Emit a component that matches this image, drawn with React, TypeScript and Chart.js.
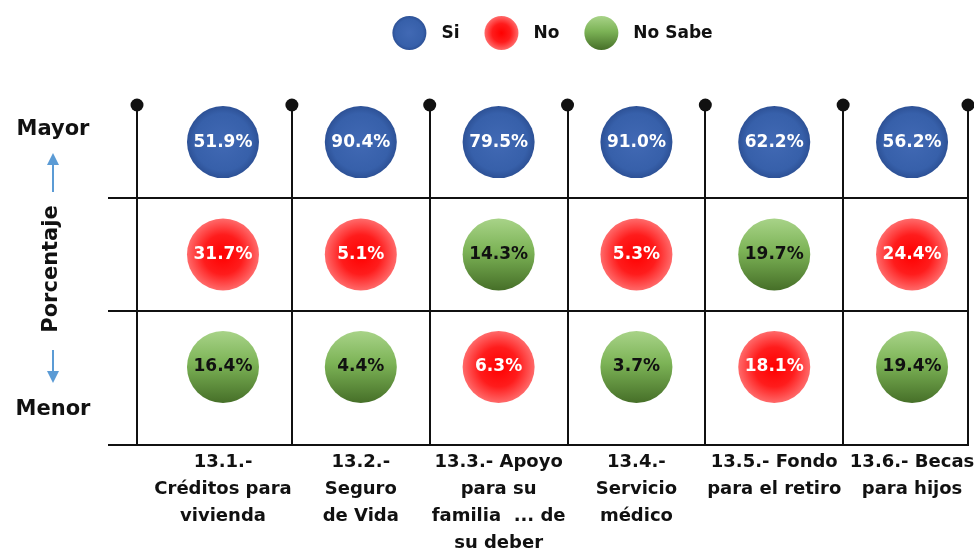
import React, { useEffect, useRef } from "react";
import { Chart, registerables } from "chart.js";

Chart.register(...registerables);

// ---------- data ----------
const categories: string[][] = [
  ["13.1.-", "Créditos para", "vivienda"],
  ["13.2.-", "Seguro", "de Vida"],
  ["13.3.- Apoyo", "para su", "familia  ... de", "su deber"],
  ["13.4.-", "Servicio", "médico"],
  ["13.5.- Fondo", "para el retiro"],
  ["13.6.- Becas", "para hijos"],
];
const seriesNames = ["Si", "No", "No Sabe"];
const siValues = [51.9, 90.4, 79.5, 91.0, 62.2, 56.2];
const noValues = [31.7, 5.1, 6.3, 5.3, 18.1, 24.4];
const noSabeValues = [16.4, 4.4, 14.3, 3.7, 19.7, 19.4];
const axisTopLabel = "Mayor";
const axisBottomLabel = "Menor";
const axisTitle = "Porcentaje";

const seriesValues = [siValues, noValues, noSabeValues];
const valueTextColors = ["#ffffff", "#ffffff", "#111111"];
const FONT = "'DejaVu Sans', 'Liberation Sans', sans-serif";
const BUBBLE_R = 36;
const LINE = "#111111";

// row of a series inside a category: highest value on top (row = n-1), lowest at bottom (row = 0)
function rowOf(seriesIdx: number, catIdx: number): number {
  const vals = seriesValues.map((s) => s[catIdx]);
  const v = vals[seriesIdx];
  const higher = vals.filter((o) => o > v).length;
  return seriesValues.length - 1 - higher;
}

function makeFill(g: CanvasRenderingContext2D, s: number, x: number, y: number, r: number) {
  if (s === 0) {
    const gr = g.createRadialGradient(x, y, 0, x, y, r);
    gr.addColorStop(0, "#4169B4");
    gr.addColorStop(0.8, "#3760AA");
    gr.addColorStop(1, "#2D5196");
    return gr;
  }
  if (s === 1) {
    const gr = g.createRadialGradient(x, y, 0, x, y, r);
    gr.addColorStop(0, "#FF0000");
    gr.addColorStop(0.55, "#FF1C1C");
    gr.addColorStop(1, "#FF6A6A");
    return gr;
  }
  const gr = g.createLinearGradient(x, y - r, x, y + r);
  gr.addColorStop(0, "#A8D388");
  gr.addColorStop(0.45, "#7CB356");
  gr.addColorStop(1, "#466F28");
  return gr;
}

const fallbackColors = ["#3760AA", "#FF2020", "#70A84A"];

const nCat = categories.length;
const xMin = -0.624;
const xMax = nCat - 1 + 0.406;
const xTickValues: number[] = [xMin];
for (let i = 0; i < nCat; i++) {
  xTickValues.push(i);
  if (i < nCat - 1) xTickValues.push(i + 0.5);
}
xTickValues.push(xMax);

const nRows = seriesValues.length;
const yMin = -0.693;
const yMax = nRows - 1 + 0.33;
const yTickValues: number[] = [yMin];
for (let k = 0; k < nRows - 1; k++) yTickValues.push(k + 0.5);

// ---------- plugins ----------
const decorPlugin = {
  id: "decor",
  afterDatasetsDraw(chart: any) {
    const g: CanvasRenderingContext2D = chart.ctx;
    chart.data.datasets.forEach((ds: any, di: number) => {
      const meta = chart.getDatasetMeta(di);
      meta.data.forEach((el: any, i: number) => {
        const v = seriesValues[di][i];
        g.save();
        g.font = `bold 17px ${FONT}`;
        g.fillStyle = valueTextColors[di];
        g.textAlign = "center";
        g.textBaseline = "middle";
        g.fillText(`${v.toFixed(1)}%`, el.x, el.y);
        g.restore();
      });
    });
  },
  afterDraw(chart: any) {
    const g: CanvasRenderingContext2D = chart.ctx;
    const area = chart.chartArea;
    const xs = chart.scales.x;
    // dots on top of vertical lines
    g.save();
    g.fillStyle = LINE;
    xTickValues.forEach((v) => {
      if (Number.isInteger(v)) return;
      const px = xs.getPixelForValue(v);
      g.beginPath();
      g.arc(px, area.top, 6.5, 0, Math.PI * 2);
      g.fill();
    });
    g.restore();

    // legend
    g.save();
    g.font = `bold 17px ${FONT}`;
    const d = 34;
    const gap = 15;
    const itemGap = 25;
    const widths = seriesNames.map((n) => g.measureText(n).width);
    const total = widths.reduce((a, w) => a + d + gap + w, 0) + itemGap * (seriesNames.length - 1);
    let lx = (area.left + area.right) / 2 - total / 2;
    const ly = 33;
    seriesNames.forEach((n, i) => {
      const cx = lx + d / 2;
      g.beginPath();
      g.arc(cx, ly, d / 2, 0, Math.PI * 2);
      g.fillStyle = makeFill(g, i, cx, ly, d / 2) as any;
      g.fill();
      g.fillStyle = "#111";
      g.textAlign = "left";
      g.textBaseline = "middle";
      g.fillText(n, lx + d + gap, ly + 1);
      lx += d + gap + widths[i] + itemGap;
    });
    g.restore();

    // left side labels
    const cx = 53;
    g.save();
    g.fillStyle = "#111";
    g.font = `bold 21px ${FONT}`;
    g.textAlign = "center";
    g.textBaseline = "middle";
    g.fillText(axisTopLabel, cx, area.top + 25);
    g.fillText(axisBottomLabel, cx, area.bottom - 35);
    g.save();
    g.translate(cx - 1, (area.top + area.bottom) / 2 - 6);
    g.rotate(-Math.PI / 2);
    g.fillText(axisTitle, 0, 0);
    g.restore();
    // arrows
    g.strokeStyle = "#5B9BD5";
    g.fillStyle = "#5B9BD5";
    g.lineWidth = 2;
    const upTop = area.top + 48;
    const upBottom = area.top + 87;
    g.beginPath();
    g.moveTo(cx, upBottom);
    g.lineTo(cx, upTop + 10);
    g.stroke();
    g.beginPath();
    g.moveTo(cx, upTop);
    g.lineTo(cx - 6, upTop + 12);
    g.lineTo(cx + 6, upTop + 12);
    g.closePath();
    g.fill();
    const dnTop = area.bottom - 95;
    const dnBottom = area.bottom - 62;
    g.beginPath();
    g.moveTo(cx, dnTop);
    g.lineTo(cx, dnBottom - 10);
    g.stroke();
    g.beginPath();
    g.moveTo(cx, dnBottom);
    g.lineTo(cx - 6, dnBottom - 12);
    g.lineTo(cx + 6, dnBottom - 12);
    g.closePath();
    g.fill();
    g.restore();
  },
};

export default function App() {
  const canvasRef = useRef<HTMLCanvasElement | null>(null);

  useEffect(() => {
    if (!canvasRef.current) return;
    const datasets = seriesNames.map((name, s) => ({
      label: name,
      data: seriesValues[s].map((_, i) => ({ x: i, y: rowOf(s, i) })),
      pointRadius: BUBBLE_R,
      pointHoverRadius: BUBBLE_R,
      pointBorderWidth: 0,
      pointBorderColor: "rgba(0,0,0,0)",
      pointBackgroundColor: (c: any) => {
        if (c.type !== "data" || !c.parsed) return fallbackColors[s];
        const ch = c.chart;
        const xs = ch.scales.x;
        const ys = ch.scales.y;
        if (!xs || !ys) return fallbackColors[s];
        const px = xs.getPixelForValue(c.parsed.x);
        const py = ys.getPixelForValue(c.parsed.y);
        if (!isFinite(px) || !isFinite(py)) return fallbackColors[s];
        return makeFill(ch.ctx, s, px, py, BUBBLE_R);
      },
      clip: false as any,
    }));

    const chart = new Chart(canvasRef.current, {
      type: "scatter",
      data: { datasets },
      options: {
        animation: false,
        responsive: false,
        events: [],
        layout: { autoPadding: false, padding: { top: 105, right: 6, left: 0, bottom: 0 } },
        plugins: {
          legend: { display: false },
          tooltip: { enabled: false },
        },
        scales: {
          x: {
            type: "linear",
            min: xMin,
            max: xMax,
            afterBuildTicks: (scale: any) => {
              scale.ticks = xTickValues.map((v) => ({ value: v }));
            },
            afterFit: (scale: any) => {
              scale.height = 108;
            },
            grid: {
              color: (c: any) =>
                c.tick && Number.isInteger(c.tick.value) ? "rgba(0,0,0,0)" : LINE,
              lineWidth: 2,
              drawTicks: false,
            },
            border: { display: true, color: LINE, width: 2 },
            ticks: {
              autoSkip: false,
              maxRotation: 0,
              minRotation: 0,
              padding: 4,
              color: "#111",
              font: { family: FONT, size: 18, weight: "bold", lineHeight: 1.5 },
              callback: (v: any) => (Number.isInteger(v) ? categories[v] : ""),
            },
          },
          y: {
            type: "linear",
            min: yMin,
            max: yMax,
            afterBuildTicks: (scale: any) => {
              scale.ticks = yTickValues.map((v) => ({ value: v }));
            },
            afterFit: (scale: any) => {
              scale.width = 137;
            },
            grid: {
              color: LINE,
              lineWidth: 2,
              drawTicks: true,
              tickLength: 29,
              tickColor: LINE,
              tickWidth: 2,
            },
            border: { display: true, color: LINE, width: 2 },
            ticks: { display: false },
          },
        },
      } as any,
      plugins: [decorPlugin],
    });
    return () => chart.destroy();
  }, []);

  return (
    <div style={{ position: "absolute", left: 0, top: 0, width: 974, height: 553, background: "#fff" }}>
      <canvas ref={canvasRef} width={974} height={553} />
    </div>
  );
}
